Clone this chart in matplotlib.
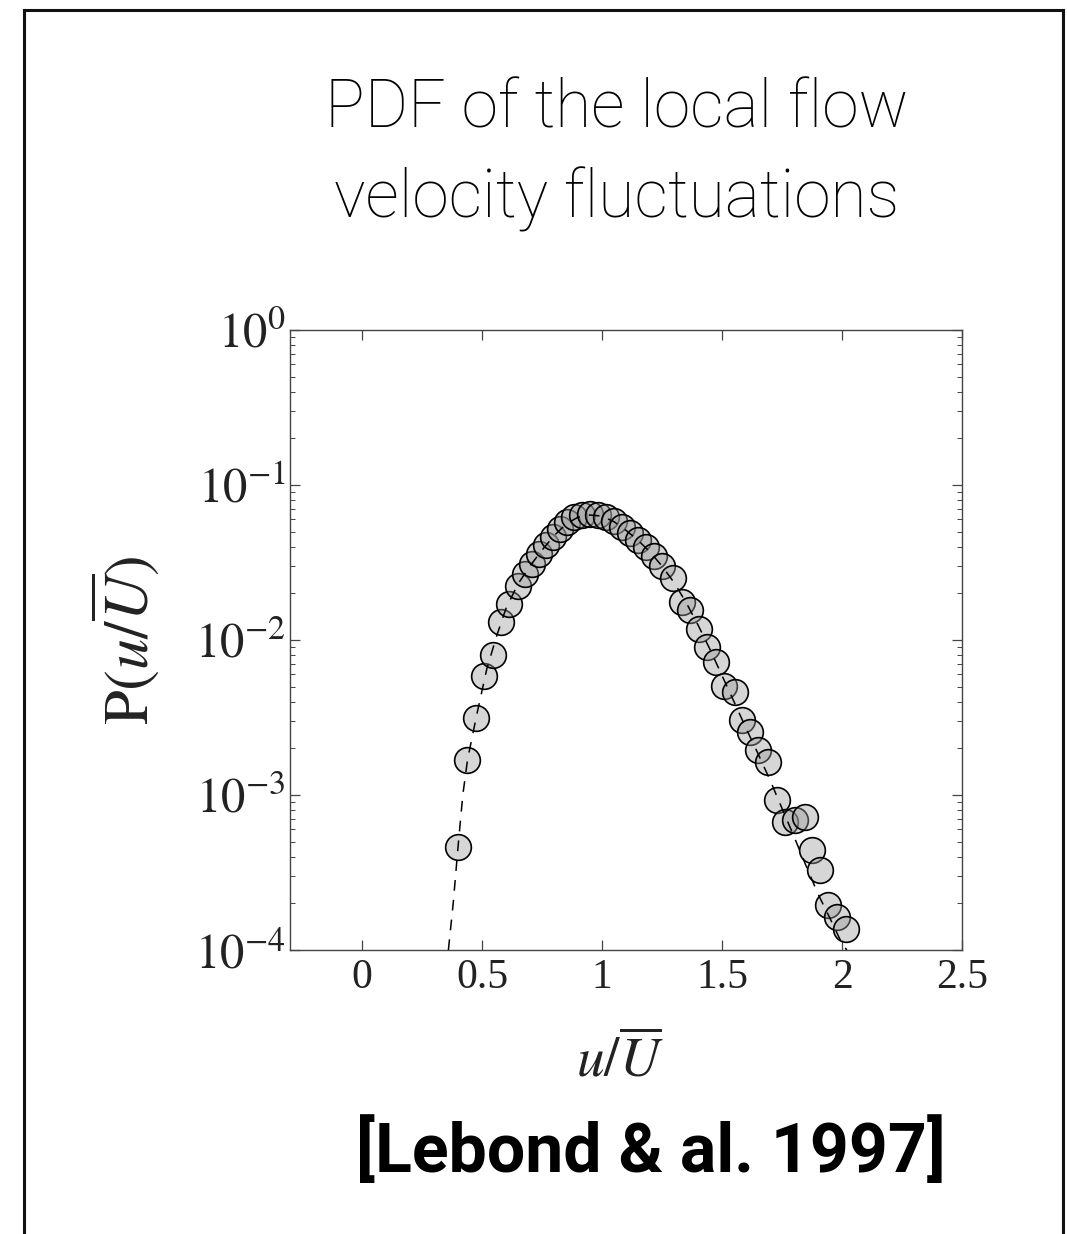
import matplotlib
matplotlib.use("Agg")
import matplotlib.pyplot as plt
from matplotlib.ticker import FixedLocator, LogLocator, NullFormatter
from matplotlib.lines import Line2D

# Measured PDF of the normalised local velocity u / U-bar
u_ratio = [0.400, 0.4375, 0.475, 0.508, 0.546, 0.579, 0.6125, 0.650, 0.679, 0.708,
           0.7375, 0.767, 0.796, 0.825, 0.854, 0.883, 0.917, 0.950, 0.983, 1.017,
           1.050, 1.083, 1.117, 1.150, 1.183, 1.217, 1.250, 1.296, 1.333, 1.367,
           1.404, 1.4375, 1.475, 1.508, 1.554, 1.583, 1.617, 1.650, 1.692, 1.729,
           1.7625, 1.804, 1.846, 1.875, 1.908, 1.942, 1.979, 2.017]
pdf_values = [4.6e-4, 1.68e-3, 3.14e-3, 5.86e-3, 8.0e-3, 1.31e-2, 1.71e-2, 2.23e-2, 2.67e-2, 3.09e-2,
              3.59e-2, 4.10e-2, 4.62e-2, 5.20e-2, 5.77e-2, 6.22e-2, 6.40e-2, 6.50e-2, 6.40e-2, 6.22e-2,
              5.86e-2, 5.36e-2, 4.90e-2, 4.42e-2, 3.98e-2, 3.48e-2, 3.00e-2, 2.51e-2, 1.76e-2, 1.56e-2,
              1.18e-2, 9.0e-3, 7.2e-3, 5.05e-3, 4.62e-3, 3.05e-3, 2.55e-3, 1.95e-3, 1.63e-3, 9.3e-4,
              6.7e-4, 6.9e-4, 7.2e-4, 4.42e-4, 3.28e-4, 1.95e-4, 1.63e-4, 1.37e-4]

# Fitted distribution (dashed curve)
fit_u = [0.36, 0.38, 0.40, 0.42, 0.44, 0.48, 0.52, 0.56, 0.60, 0.65, 0.70, 0.75,
         0.80, 0.85, 0.90, 0.95, 1.00, 1.05, 1.10, 1.15, 1.20, 1.25, 1.30, 1.35,
         1.40, 1.45, 1.50, 1.55, 1.60, 1.65, 1.70, 1.75, 1.80, 1.85, 1.90, 1.95,
         2.00, 2.02]
fit_pdf = [1.0e-4, 2.0e-4, 4.6e-4, 1.0e-3, 1.7e-3, 3.4e-3, 6.5e-3, 1.05e-2, 1.6e-2, 2.3e-2,
           3.0e-2, 3.8e-2, 4.7e-2, 5.6e-2, 6.2e-2, 6.4e-2, 6.3e-2, 5.8e-2, 5.1e-2, 4.4e-2,
           3.7e-2, 3.0e-2, 2.35e-2, 1.75e-2, 1.25e-2, 8.7e-3, 5.9e-3, 4.0e-3, 2.7e-3, 1.85e-3,
           1.25e-3, 8.2e-4, 5.4e-4, 3.5e-4, 2.3e-4, 1.6e-4, 1.1e-4, 1.0e-4]

x_ticks = [0, 0.5, 1, 1.5, 2, 2.5]
x_tick_labels = ["0", "0.5", "1", "1.5", "2", "2.5"]
y_ticks = [1e-4, 1e-3, 1e-2, 1e-1, 1e0]
y_tick_labels = [r"$10^{-4}$", r"$10^{-3}$", r"$10^{-2}$", r"$10^{-1}$", r"$10^{0}$"]

title_lines = ["PDF of the local flow", "velocity fluctuations"]
citation = "[Lebond & al. 1997]"

plt.rcParams["mathtext.fontset"] = "stix"
plt.rcParams["font.family"] = "serif"
plt.rcParams["font.serif"] = ["Liberation Serif", "DejaVu Serif"]

W, H = 1067, 1234
fig = plt.figure(figsize=(W / 100, H / 100), dpi=100)
fig.patch.set_facecolor("white")

# Slide frame (open at the bottom)
frame_kw = dict(color="#111111", lw=2.2, transform=fig.transFigure, zorder=10)
fig.add_artist(Line2D([24 / W, 24 / W], [0, 1 - 10 / H], **frame_kw))
fig.add_artist(Line2D([24 / W, 1063 / W], [1 - 10 / H, 1 - 10 / H], **frame_kw))
fig.add_artist(Line2D([1063 / W, 1063 / W], [0, 1 - 10 / H], **frame_kw))

ax = fig.add_axes([290 / W, 1 - 950 / H, 672 / W, 620 / H])
ax.plot(u_ratio, pdf_values, "o", ms=18.5, mfc=(0.6, 0.6, 0.6, 0.4),
        mec="black", mew=1.2, zorder=2)
ax.plot(fit_u, fit_pdf, color="black", lw=1.1, ls=(0, (7, 6)), zorder=3)

ax.set_yscale("log")
ax.set_xlim(-0.3, 2.5)
ax.set_ylim(1e-4, 1)

ax.xaxis.set_major_locator(FixedLocator(x_ticks))
ax.set_xticklabels(x_tick_labels)
ax.yaxis.set_major_locator(FixedLocator(y_ticks))
ax.set_yticklabels(y_tick_labels)
ax.yaxis.set_minor_locator(LogLocator(base=10, subs=range(2, 10)))
ax.yaxis.set_minor_formatter(NullFormatter())

for s in ax.spines.values():
    s.set_color("#444444")
    s.set_linewidth(1.0)
ax.tick_params(which="both", direction="in", top=True, right=True, colors="#444444")
ax.tick_params(which="major", length=7, width=0.9, labelcolor="#222222")
ax.tick_params(which="minor", length=3.5, width=0.7)
ax.tick_params(axis="x", pad=6, labelsize=30)
ax.tick_params(axis="y", pad=3, labelsize=35)

ax.set_xlabel(r"$u/\overline{U}$", fontsize=40, color="#222222")
ax.xaxis.set_label_coords(0.491, -0.135)
ax.set_ylabel(r"$\mathrm{P}(u/\overline{U})$", fontsize=45, color="#222222")
ax.yaxis.set_label_coords(-0.19, 0.5)

fig.text(617 / W, 1 - 128 / H, title_lines[0], ha="center", va="baseline",
         fontsize=47.5, family="Roboto", weight="light", color="black")
fig.text(617 / W, 1 - 217 / H, title_lines[1], ha="center", va="baseline",
         fontsize=47.5, family="Roboto", weight="light", color="black")
fig.text(651 / W, 1 - 1172 / H, citation, ha="center", va="baseline",
         fontsize=49, family="Roboto", weight="bold", color="black")

fig.savefig("out.png", dpi=100, facecolor="white")
